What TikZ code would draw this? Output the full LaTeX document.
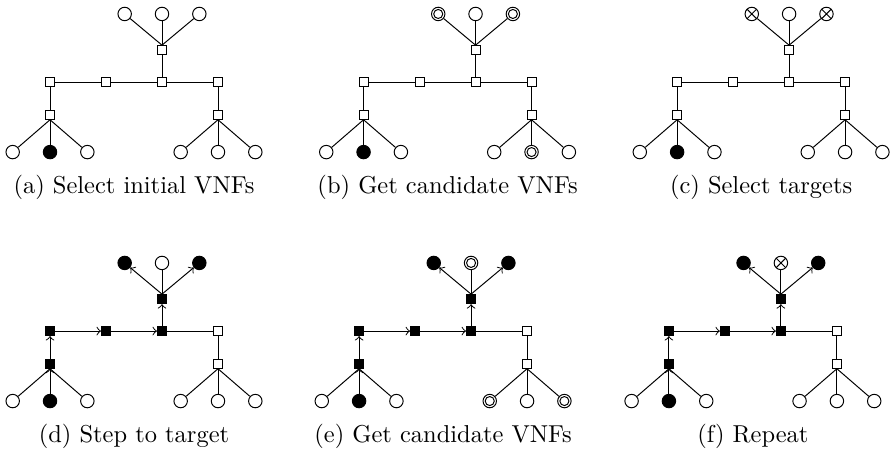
\documentclass[tikz,border=0pt]{standalone}
\usepackage{amsmath}
\usepackage{tikz}
\usetikzlibrary{positioning}

% one network: VNFs t1-t3 on top, b1-b6 at the bottom, switches s1-s7
\newcommand{\vnfnet}[1]{%
	% draw switches
	\node (s1) at (4,2.73) [s1] {};
	\node (s2) at (1,1.875) [s2] {};
	\node (s3) at (2.5,1.875) [s3] {};
	\node (s4) at (4,1.875) [s4] {};
	\node (s5) at (5.5,1.875) [s5] {};
	\node (s6) at (1,1) [s6] {};
	\node (s7) at (5.5,1) [s7] {};

	% draw VNFs
	\node (t1) at (3,3.7) [t1] {};
	\node (t2) at (4,3.7) [t2] {};
	\node (t3) at (5,3.7) [t3] {};
	\node (b1) at (0,0) [b1] {};
	\node (b2) at (1,0) [b2] {};
	\node (b3) at (2,0) [b3] {};
	\node (b4) at (4.5,0) [b4] {};
	\node (b5) at (5.5,0) [b5] {};
	\node (b6) at (6.5,0) [b6] {};

	% draw links (hop = links on the chosen path)
	\draw[hop] (b2) -- (s6.south);
	\draw[hop] (s6) -- (s2);
	\draw[hop] (s2) -- (s3);
	\draw[hop] (s3) -- (s4);
	\draw[hop] (s4) -- (s1);
	\draw[hop] (s1.north) -- (t1);
	\draw[hop] (s1.north) -- (t3);
	\draw[link] (s1.north) -- (t2);
	\draw[link] (b1) -- (s6.south);
	\draw[link] (b3) -- (s6.south);
	\draw[link] (s4) -- (s5);
	\draw[link] (s5) -- (s7);
	\draw[link] (b4) -- (s7.south);
	\draw[link] (b5) -- (s7.south);
	\draw[link] (b6) -- (s7.south);

	% caption
	\node (cap) at (3.25,-1.1) [anchor=base] {#1};
}

\begin{document}
\begin{tikzpicture}[x=0.5365cm,y=0.5365cm,every path/.style={>=to},
	vnf/.style={draw,circle,minimum size=5.5pt,inner sep=0pt,fill=white},
	chosen/.style={vnf,fill=black},
	cand/.style={vnf,path picture={
		\draw (path picture bounding box.center) circle (1.85pt);}},
	target/.style={vnf,path picture={
		\draw (path picture bounding box.south west) -- (path picture bounding box.north east)
		      (path picture bounding box.north west) -- (path picture bounding box.south east);}},
	sw/.style={draw,rectangle,minimum size=3.7pt,inner sep=0pt,fill=white},
	swon/.style={sw,fill=black},
	link/.style={},
	hop/.style={link},
	t1/.style={vnf},t2/.style={vnf},t3/.style={vnf},
	b1/.style={vnf},b2/.style={chosen},b3/.style={vnf},
	b4/.style={vnf},b5/.style={vnf},b6/.style={vnf},
	s1/.style={sw},s2/.style={sw},s3/.style={sw},s4/.style={sw},
	s5/.style={sw},s6/.style={sw},s7/.style={sw},
	% switches and VNFs on the path, for the lower row
	onpath/.style={hop/.style={link,->},
		s1/.style={swon},s2/.style={swon},s3/.style={swon},
		s4/.style={swon},s6/.style={swon},
		t1/.style={chosen},t3/.style={chosen}}]

	\useasboundingbox (0,0) rectangle (23.95,12.054);

	% top row
	\begin{scope}[shift={(0.34,7.98)}]
		\vnfnet{(a) Select initial VNFs}
	\end{scope}
	\begin{scope}[shift={(8.74,7.98)},t1/.style={cand},t3/.style={cand},b5/.style={cand}]
		\vnfnet{(b) Get candidate VNFs}
	\end{scope}
	\begin{scope}[shift={(17.14,7.98)},t1/.style={target},t3/.style={target}]
		\vnfnet{(c) Select targets}
	\end{scope}

	% bottom row
	\begin{scope}[shift={(0.34,1.31)},onpath]
		\vnfnet{(d) Step to target}
	\end{scope}
	\begin{scope}[shift={(8.62,1.31)},onpath,t2/.style={cand},b4/.style={cand},b6/.style={cand}]
		\vnfnet{(e) Get candidate VNFs}
	\end{scope}
	\begin{scope}[shift={(16.92,1.31)},onpath,t2/.style={target}]
		\vnfnet{(f) Repeat}
	\end{scope}
\end{tikzpicture}
\end{document}
